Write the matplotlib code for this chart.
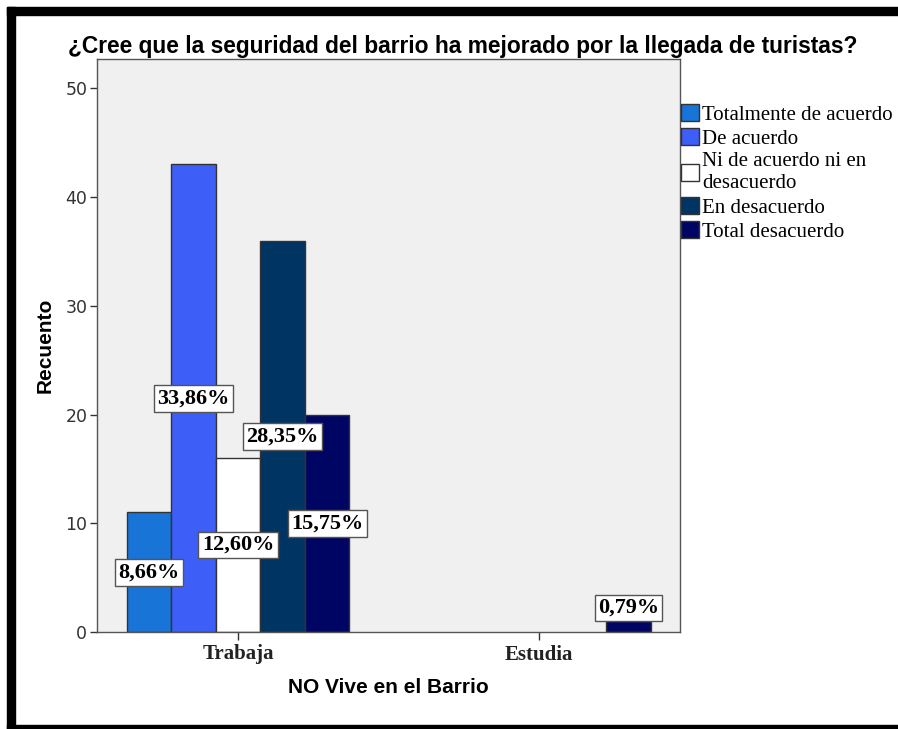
import numpy as np
import matplotlib
matplotlib.use("Agg")
import matplotlib.pyplot as plt
from matplotlib.patches import Rectangle

# data
groups = ["Trabaja", "Estudia"]
series = ["Totalmente de acuerdo", "De acuerdo", "Ni de acuerdo ni en\ndesacuerdo",
          "En desacuerdo", "Total desacuerdo"]
counts = [[11, 0], [43, 0], [16, 0], [36, 0], [20, 1]]
pct_labels = [["8,66%", ""], ["33,86%", ""], ["12,60%", ""], ["28,35%", ""], ["15,75%", "0,79%"]]
colors = ["#1874d6", "#3d5ef7", "#ffffff", "#003462", "#000564"]

W, H = 898, 729
fig = plt.figure(figsize=(W / 100, H / 100), dpi=100)
ax = fig.add_axes([97 / W, 1 - 632 / H, (680 - 97) / W, (632 - 59) / H])
ax.set_facecolor("#f0f0f0")

x = np.arange(len(groups))
bw = 0.148
for i, (name, vals) in enumerate(zip(series, counts)):
    off = (i - 2) * bw
    for j, v in enumerate(vals):
        if v == 0:
            continue
        ax.bar(x[j] + off, v, bw, color=colors[i], edgecolor="#333333", linewidth=1, zorder=2)
        lab = pct_labels[i][j]
        if v / 2 > 3:
            y, va = v / 2, "center"
        else:
            y, va = v + 0.3, "bottom"
        ax.text(x[j] + off, y, lab, ha="center", va=va, fontsize=16, fontweight="bold",
                family="Liberation Serif", zorder=4,
                bbox=dict(boxstyle="square,pad=0.15", fc="white", ec="#555555", lw=1))

ax.set_xlim(-0.468, 1.467)
ax.set_ylim(0, 52.7)
ax.set_yticks([0, 10, 20, 30, 40, 50])
ax.set_xticks(x)
ax.set_xticklabels(groups, family="Liberation Serif", fontweight="bold", fontsize=15)
ax.tick_params(axis="y", labelsize=12.5, colors="#333333", length=5, width=1, pad=2)
ax.tick_params(axis="x", length=6, width=1, colors="#333333", pad=3)
for lbl in ax.get_xticklabels():
    lbl.set_color("#222222")
for s in ax.spines.values():
    s.set_color("#555555")
    s.set_linewidth(1)

ax.set_xlabel("NO Vive en el Barrio", family="Liberation Sans", fontweight="bold", fontsize=15, labelpad=10)
ax.set_ylabel("Recuento", family="Liberation Sans", fontweight="bold", fontsize=15, labelpad=8)

fig.text(68 / W, 1 - 46 / H, "¿Cree que la seguridad del barrio ha mejorado por la llegada de turistas?",
         ha="left", va="center", family="Liberation Sans", fontweight="bold", fontsize=16.4)

handles = [Rectangle((0, 0), 1, 1, fc=c, ec="#333333", lw=1) for c in colors]
ax.legend(handles, series, loc="upper left", bbox_to_anchor=(1.001, 0.922), frameon=False,
          borderaxespad=0, borderpad=0, handlelength=0.9, handleheight=0.9,
          handletextpad=0.15, labelspacing=0.17, prop={"family": "Liberation Serif", "size": 15})

# black frame round the picture
px = lambda v: v / W
py = lambda v: 1 - v / H
fig.patches.append(Rectangle((px(7), py(15)), 1, 8 / H, transform=fig.transFigure, color="black"))
fig.patches.append(Rectangle((px(7), 0), 8 / W, py(7), transform=fig.transFigure, color="black"))
fig.patches.append(Rectangle((px(7), 0), 1, 4 / H, transform=fig.transFigure, color="black"))

fig.savefig("out.png", dpi=100)
